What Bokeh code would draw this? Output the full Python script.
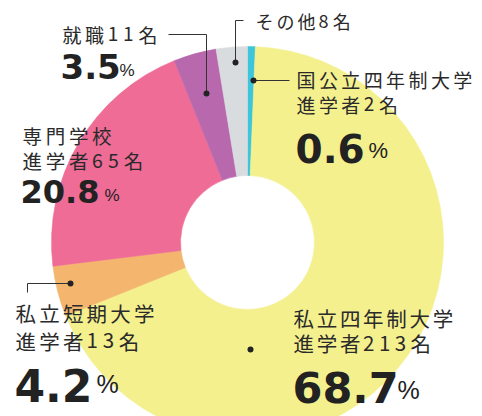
import math
from bokeh.plotting import figure
from bokeh.models import Range1d, ColumnDataSource
from bokeh.core.properties import value
from bokeh.embed import file_html
from bokeh.resources import INLINE

# ---- data (clockwise from 12 o'clock) ----
categories = ["国公立四年制大学", "私立四年制大学", "私立短期大学", "専門学校", "就職", "その他"]
counts = [2, 213, 13, 65, 11, 8]
percent_labels = ["0.6", "68.7", "4.2", "20.8", "3.5", None]
colors = ["#3DC5DA", "#F4F08E", "#F4B66E", "#EE6C95", "#B869AE", "#D9DCDF"]

W, H = 482, 416


def Y(y):
    return H - y


p = figure(width=W, height=H, output_backend="svg", toolbar_location=None,
           x_range=Range1d(0, W), y_range=Range1d(0, H), min_border=0,
           x_axis_location=None, y_axis_location=None)
p.grid.visible = False
p.outline_line_color = None
p.background_fill_color = "white"
p.border_fill_color = "white"

# ---- donut ----
CX, CY, R_IN, R_OUT = 247, 242, 67, 196
total = sum(counts)
starts, ends = [], []
cum = 0
for c in counts:
    starts.append(math.pi / 2 - 2 * math.pi * cum / total)
    cum += c
    ends.append(math.pi / 2 - 2 * math.pi * cum / total)
src = ColumnDataSource(dict(start=starts, end=ends, color=colors, cat=categories))
p.annular_wedge(x=CX, y=Y(CY), inner_radius=R_IN, outer_radius=R_OUT,
                start_angle="start", end_angle="end", direction="clock",
                fill_color="color", line_color="color", line_width=0.6, source=src)

# ---- leader lines and dots ----
LC = "#333333"
leaders = [
    ([168, 206, 206], [34, 34, 93]),     # 就職
    ([243, 235, 235], [20, 20, 62]),     # その他
    ([253, 289], [80, 80]),              # 国公立
    ([70, 27, 27], [283, 283, 292]),     # 私立短期
]
for xs, ys in leaders:
    p.line(xs, [Y(v) for v in ys], line_color=LC, line_width=1)
dots_x = [206, 235, 253, 70, 250]
dots_y = [93, 62, 80, 283, 349]
p.scatter(dots_x, [Y(v) for v in dots_y], size=6, fill_color="#222222", line_color=None)

# ---- Japanese labels (tracked, char by char) ----
JP = value("Noto Sans CJK JP")
label_lines = [
    ("就職11名", 62, 33.5, 19, 22.6),
    ("その他8名", 255, 20.5, 18, 21.0),
    ("国公立四年制大学", 296, 78.5, 19, 22.4),
    ("進学者2名", 296, 103.5, 19, 22.4),
    ("専門学校", 22, 135, 19.5, 23.2),
    ("進学者65名", 22, 160, 19.5, 23.2),
    ("私立短期大学", 15, 312.5, 20.5, 23.7),
    ("進学者13名", 15, 340, 20.5, 23.7),
    ("私立四年制大学", 293, 317.5, 20.5, 23.2),
    ("進学者213名", 293, 342.5, 20.5, 23.2),
]
for line, x0, yc, size, pitch in label_lines:
    xs, chars = [], []
    x = x0
    for ch in line:
        xs.append(x)
        chars.append(ch)
        x += pitch if ord(ch) > 0x2000 else pitch * 0.68
    p.text(x=xs, y=[Y(yc)] * len(xs), text=chars, text_font=JP,
           text_font_size=f"{size}px", text_baseline="middle", text_align="left",
           text_color="#2a2a2a")

# ---- percentages ----
NUM = value("DejaVu Sans")
# number: left x, cap-centre y, font px ; percent sign: left x, centre y, font px
pct_layout = {
    "3.5": (60, 63.5, 34, 119, 69, 17),
    "0.6": (295, 145, 39, 368, 148.5, 22),
    "20.8": (20, 189, 32, 104, 194, 17),
    "4.2": (14, 382.5, 44, 96, 382, 25),
    "68.7": (292, 384, 43, 397, 388, 25),
}
for lab in percent_labels:
    if lab is None:
        continue
    x0, yc, fs, px, pyc, pfs = pct_layout[lab]
    p.text(x=[x0], y=[Y(yc + 0.067 * fs)], text=[lab], text_font=NUM,
           text_font_style="bold", text_font_size=f"{fs}px", text_baseline="middle",
           text_align="left", text_color="#222222")
    p.text(x=[px], y=[Y(pyc + 0.05 * pfs)], text=["%"], text_font=value("Liberation Sans"),
           text_font_size=f"{pfs}px", text_baseline="middle", text_align="left",
           text_color="#222222")

open("out.html", "w").write(file_html(p, INLINE))
